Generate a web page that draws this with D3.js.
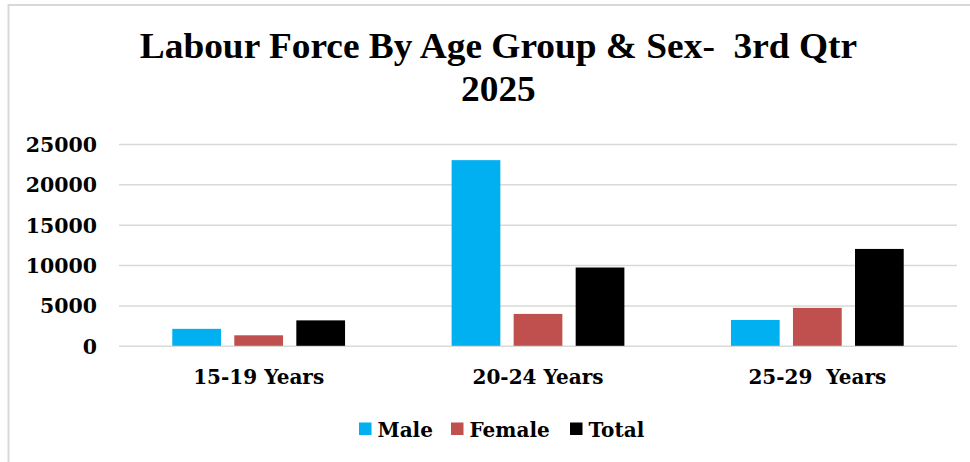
<!DOCTYPE html>
<html>
<head>
<meta charset="utf-8">
<script src="https://cdn.jsdelivr.net/npm/d3@7"></script>
<style>
  html, body { margin: 0; padding: 0; background: #fff; }
  text { white-space: pre; }
</style>
</head>
<body>
<svg id="chart" width="970" height="462"></svg>
<script>
const categories = ["15-19 Years", "20-24 Years", "25-29  Years"];
const seriesNames = ["Male", "Female", "Total"];
const maleValues = [2100, 23000, 3200];
const femaleValues = [1300, 3950, 4700];
const totalValues = [3150, 9700, 12000];
const yTicks = [0, 5000, 10000, 15000, 20000, 25000];
const titleLines = ["Labour Force By Age Group & Sex-  3rd Qtr", "2025"];
const colors = ["#00B0F0", "#C0504D", "#000000"];

const seriesValues = [maleValues, femaleValues, totalValues];
const data = categories.map((c, i) => ({
  cat: c,
  vals: seriesNames.map((s, j) => ({ s, v: seriesValues[j][i], c: colors[j] }))
}));

const svg = d3.select("#chart");
const labelFont = "'DejaVu Serif', serif";

// outer frame (only top & left visible)
svg.append("rect").attr("x", 8.5).attr("y", 5).attr("width", 1000).attr("height", 1000)
  .attr("fill", "none").attr("stroke", "#d9d9d9").attr("stroke-width", 2);

// title
const tg = svg.append("g").attr("transform", "translate(498.4,0) scale(1.053,1)");
tg.selectAll("text").data(titleLines).join("text")
  .attr("x", 0).attr("y", (d, i) => 58.5 + i * 43)
  .attr("text-anchor", "middle")
  .attr("font-family", "'Liberation Serif', 'Times New Roman', serif")
  .attr("font-weight", "bold").attr("font-size", 35.5)
  .attr("fill", "#000")
  .text(d => d);

const x0 = d3.scaleBand().domain(categories).range([119, 957]).padding(0);
const x1 = d3.scaleBand().domain(seriesNames).range([0, x0.bandwidth()])
  .paddingInner(0.2145).paddingOuter(0.859);
const y = d3.scaleLinear().domain([0, 25000]).range([345.8, 144]);

// gridlines
const grid = d3.axisLeft(y).tickValues(yTicks).tickSize(-(957 - 119)).tickFormat("");
const gg = svg.append("g").attr("transform", "translate(119,0)").call(grid);
gg.select(".domain").remove();
gg.selectAll("line").attr("stroke", "#d9d9d9").attr("stroke-width", 1.5);

// y labels
const yAxis = d3.axisLeft(y).tickValues(yTicks).tickSize(0).tickPadding(0).tickFormat(d3.format("d"));
const ya = svg.append("g").attr("transform", "translate(97,0)").call(yAxis);
ya.select(".domain").remove();
ya.selectAll("text").attr("font-family", labelFont).attr("font-weight", "bold")
  .attr("font-size", 20.5).attr("fill", "#000").attr("dy", "0.36em");

// bars
const groups = svg.append("g").selectAll("g").data(data).join("g")
  .attr("transform", d => `translate(${x0(d.cat)},0)`);
groups.selectAll("rect").data(d => d.vals).join("rect")
  .attr("x", d => x1(d.s))
  .attr("width", x1.bandwidth())
  .attr("y", d => y(d.v))
  .attr("height", d => y(0) - y(d.v))
  .attr("fill", d => d.c);

// x labels
const xAxis = d3.axisBottom(x0).tickSize(0).tickPadding(0);
const xa = svg.append("g").attr("transform", "translate(0,384)").call(xAxis);
xa.select(".domain").remove();
xa.selectAll("text").attr("font-family", labelFont).attr("font-weight", "bold")
  .attr("font-size", 20).attr("fill", "#000").attr("dy", 0);

// legend
const legendX = [359, 451, 570];
const lg = svg.append("g").selectAll("g").data(seriesNames).join("g")
  .attr("transform", (d, i) => `translate(${legendX[i]},0)`);
lg.append("rect").attr("x", 0).attr("y", 422.5).attr("width", 12.5).attr("height", 12.5)
  .attr("fill", (d, i) => colors[i]);
lg.append("text").attr("x", 18.5).attr("y", 436.5)
  .attr("font-family", labelFont).attr("font-weight", "bold")
  .attr("font-size", 20).attr("fill", "#000").text(d => d);
</script>
</body>
</html>
